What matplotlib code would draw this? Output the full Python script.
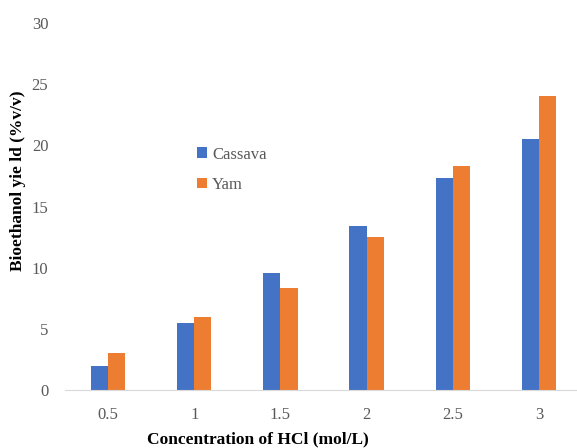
import matplotlib
matplotlib.use("Agg")
import matplotlib.pyplot as plt
import numpy as np

# data
concentrations = ["0.5", "1", "1.5", "2", "2.5", "3"]
cassava = [2.0, 5.5, 9.6, 13.4, 17.3, 20.5]
yam = [3.0, 6.0, 8.3, 12.5, 18.3, 24.0]

blue = "#4472C4"
orange = "#ED7D31"
gray = "#595959"

plt.rcParams["font.family"] = ["Liberation Serif", "DejaVu Serif"]

fig = plt.figure(figsize=(5.77, 4.48), dpi=100)
ax = fig.add_axes([65 / 577, 58 / 448, 517 / 577, 367 / 448])

x = np.arange(len(concentrations))
bar_w = 0.2
ax.bar(x - bar_w / 2, cassava, bar_w, color=blue, label="Cassava")
ax.bar(x + bar_w / 2, yam, bar_w, color=orange, label="Yam")

ax.set_xlim(-0.5, len(concentrations) - 0.5)
ax.set_ylim(0, 30)
ax.set_yticks(range(0, 31, 5))
ax.set_xticks(x)
ax.set_xticklabels(concentrations)
ax.tick_params(length=0, labelsize=12, colors=gray, pad=12)
ax.tick_params(axis="y", pad=12)

for side in ["top", "right", "left"]:
    ax.spines[side].set_visible(False)
ax.spines["bottom"].set_color("#D9D9D9")

leg = ax.legend(loc="upper left", bbox_to_anchor=(117 / 517, 0.704), frameon=False,
                fontsize=12, handlelength=0.6, handleheight=0.6, handletextpad=0.3,
                labelspacing=0.85)
for t in leg.get_texts():
    t.set_color(gray)

fig.text(18 / 577, 1 - 181 / 448, "Bioethanol yie ld (%v/v)", rotation=90,
         ha="center", va="center", fontsize=12.5, fontweight="bold")
fig.text(258 / 577, 1 - 439 / 448, "Concentration of HCl (mol/L)",
         ha="center", va="center", fontsize=12.5, fontweight="bold")

fig.savefig("out.png", dpi=100)
